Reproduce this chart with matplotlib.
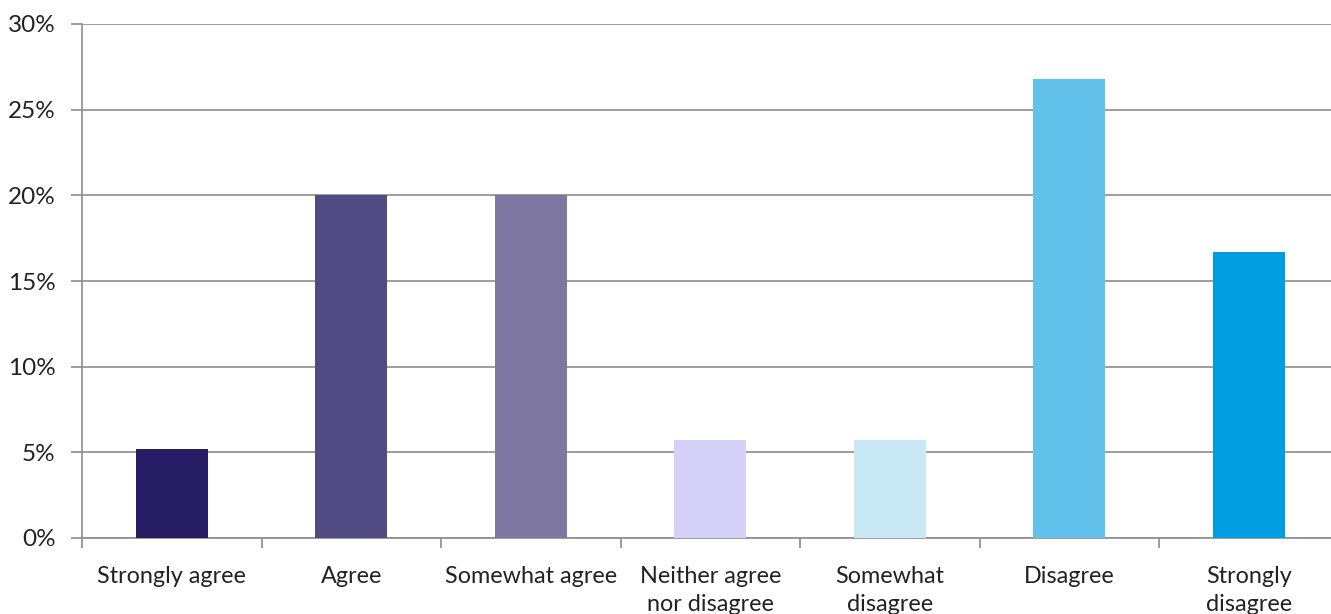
import matplotlib.pyplot as plt
from matplotlib.ticker import FixedLocator, PercentFormatter

# data
categories = ["Strongly agree", "Agree", "Somewhat agree", "Neither agree\nnor disagree",
              "Somewhat\ndisagree", "Disagree", "Strongly\ndisagree"]
values = [5.2, 20.0, 20.0, 5.7, 5.7, 26.8, 16.7]
colors = ["#261c64", "#524a82", "#7d77a2", "#d4d2fa", "#c8e8f6", "#62c2ec", "#009ee0"]

plt.rcParams['font.family'] = ['Lato', 'DejaVu Sans']
grid_col = "#8c8c8c"

fig = plt.figure(figsize=(13.31, 6.14), dpi=100)
ax = fig.add_axes([82/1331, 76/614, 1249/1331, 514/614])

x = range(len(categories))
ax.bar(x, values, width=0.4, color=colors, zorder=3)

ax.set_ylim(0, 30)
ax.set_xlim(-0.5, -0.5 + 1249/179.5)
ax.set_yticks([0, 5, 10, 15, 20, 25, 30])
ax.yaxis.set_major_formatter(PercentFormatter(decimals=0))
ax.yaxis.grid(True, color=grid_col, linewidth=1.2, zorder=0)

ax.set_xticks(list(x))
ax.set_xticklabels(categories, fontsize=16.8, color="#222222", linespacing=1.45)
ax.tick_params(axis='x', length=0, pad=20)
ax.xaxis.set_minor_locator(FixedLocator([i + 0.5 for i in range(-1, 7)]))
ax.tick_params(axis='x', which='minor', length=7, color=grid_col, width=1.2)
ax.tick_params(axis='y', length=8, color=grid_col, width=1.2, labelsize=17.5, labelcolor="#222222", pad=11)

for s in ["top", "right"]:
    ax.spines[s].set_visible(False)
for s in ["left", "bottom"]:
    ax.spines[s].set_color(grid_col)
    ax.spines[s].set_linewidth(1.2)

fig.savefig("out.png", dpi=100)
